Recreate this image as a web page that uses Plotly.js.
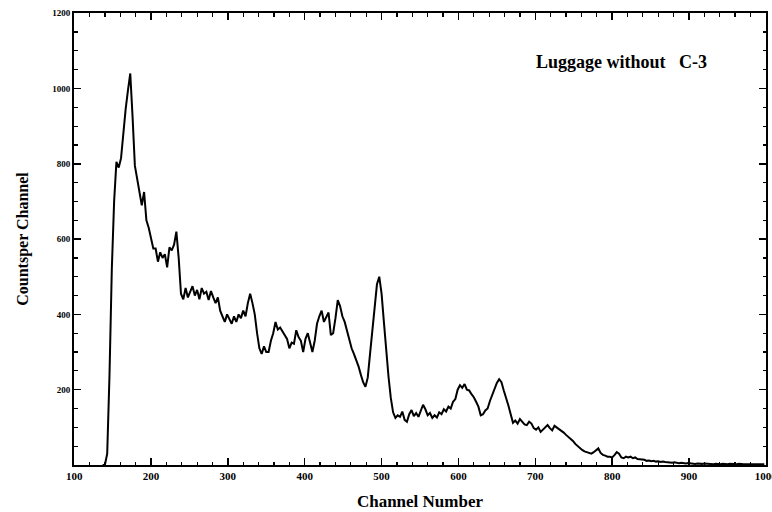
<!DOCTYPE html>
<html>
<head>
<meta charset="utf-8">
<script src="https://cdn.plot.ly/plotly-3.0.1.min.js"></script>
<style>html,body{margin:0;padding:0;background:#fff;}#chart{width:772px;height:512px;}</style>
</head>
<body>
<div id="chart"></div>
<script>
// Channel numbers start at 137 and advance by 3 per value
const channelStart = 137;
const channelStep = 3;
const counts = [
  0, 0, 30, 240, 520, 700, 805, 790, 815, 885,
  945, 995, 1040, 925, 795, 760, 720, 690, 725, 650,
  630, 600, 575, 575, 540, 565, 550, 560, 525, 578,
  570, 585, 620, 550, 455, 440, 470, 445, 460, 475,
  450, 465, 440, 470, 455, 460, 438, 462, 445, 430,
  445, 410, 395, 380, 400, 385, 375, 395, 380, 400,
  390, 410, 395, 430, 455, 430, 400, 350, 310, 295,
  315, 300, 300, 330, 350, 380, 360, 365, 355, 345,
  335, 310, 325, 322, 358, 340, 330, 300, 335, 350,
  320, 300, 330, 375, 395, 410, 380, 395, 405, 345,
  350, 390, 438, 422, 395, 380, 355, 338, 310, 295,
  280, 262, 240, 220, 208, 232, 295, 360, 420, 480,
  500, 455, 380, 300, 235, 178, 140, 125, 132, 128,
  142, 120, 115, 135, 146, 130, 138, 128, 145, 160,
  148, 132, 138, 125, 132, 126, 140, 135, 148, 142,
  155, 150, 168, 175, 200, 212, 205, 215, 200, 198,
  188, 180, 168, 155, 132, 135, 145, 150, 170, 185,
  205, 218, 228, 220, 198, 180, 158, 135, 112, 118,
  110, 122, 115, 108, 106, 115, 110, 98, 94, 100,
  88, 95, 100, 106, 98, 92, 104, 100, 96, 90,
  86, 80, 75, 70, 64, 56, 50, 46, 40, 36,
  34, 32, 30, 34, 40, 44, 32, 27, 25, 22,
  22, 20, 26, 34, 30, 20, 18, 22, 20, 22,
  18, 20, 16, 15, 13, 14, 11, 12, 10, 11,
  9, 10, 8, 9, 8, 7, 8, 6, 7, 6,
  5, 6, 5, 4, 5, 4, 4, 3, 4, 3,
  3, 4, 3, 2, 3, 2, 3, 2, 2, 3,
  2, 2, 3, 2, 2, 2, 3, 2, 2, 2,
  3, 2, 2, 2, 2, 2, 2, 2
];
const xTickVals = [100, 200, 300, 400, 500, 600, 700, 800, 900, 1000];
const yTickVals = [200, 400, 600, 800, 1000, 1200];
const titleText = "Luggage without\u00a0\u00a0 C-3";
const xTitle = "Channel Number";
const yTitle = "Countsper Channel";

const serif = "Liberation Serif, Times New Roman, serif";
const xRange = [99.8, 1000.2];
const yRange = [0, 1200.5];

const trace = {
  type: "scatter",
  mode: "lines",
  x0: channelStart,
  dx: channelStep,
  y: counts,
  line: {color: "#000", width: 2, shape: "linear"},
  hoverinfo: "skip"
};

function tickStyle(extra) {
  return Object.assign({
    tickmode: "array",
    ticks: "inside",
    ticklen: 7,
    tickwidth: 1.5,
    tickcolor: "#000",
    mirror: "ticks",
    showgrid: false,
    zeroline: false
  }, extra);
}

const layout = {
  width: 772,
  height: 512,
  margin: {l: 74, r: 6, t: 13, b: 47},
  paper_bgcolor: "#fff",
  plot_bgcolor: "#fff",
  showlegend: false,
  font: {family: serif, color: "#000"},
  xaxis: tickStyle({
    range: xRange,
    tickvals: xTickVals,
    showline: true,
    linecolor: "#000",
    linewidth: 2,
    ticklabeloverflow: "allow",
    tickfont: {family: serif, size: 11, color: "#000", weight: "bold"},
    minor: {dtick: 20, tick0: 100, ticks: "inside", ticklen: 3.5, tickcolor: "#000", tickwidth: 1.2, showgrid: false},
    title: {text: "<b>" + xTitle + "</b>", font: {family: serif, size: 17, color: "#000"}, standoff: 14}
  }),
  xaxis2: tickStyle({
    range: xRange,
    tickvals: xTickVals,
    overlaying: "x",
    side: "top",
    anchor: "y",
    showline: false,
    showticklabels: false,
    minor: {dtick: 20, tick0: 100, ticks: "inside", ticklen: 3.5, tickcolor: "#000", tickwidth: 1.2, showgrid: false}
  }),
  yaxis: tickStyle({
    range: yRange,
    tickvals: yTickVals,
    showline: true,
    linecolor: "#000",
    linewidth: 2,
    ticklabeloverflow: "allow",
    tickfont: {family: serif, size: 9, color: "#000", weight: "bold"},
    minor: {dtick: 50, tick0: 0, ticks: "inside", ticklen: 3.5, tickcolor: "#000", tickwidth: 1.2, showgrid: false},
    title: {text: "<b>" + yTitle + "</b>", font: {family: serif, size: 16, color: "#000"}, standoff: 20}
  }),
  yaxis2: tickStyle({
    range: yRange,
    tickvals: yTickVals,
    overlaying: "y",
    side: "right",
    anchor: "x",
    showline: false,
    showticklabels: false,
    minor: {dtick: 50, tick0: 0, ticks: "inside", ticklen: 3.5, tickcolor: "#000", tickwidth: 1.2, showgrid: false}
  }),
  annotations: [{
    x: 812, y: 1070, xref: "x", yref: "y",
    text: "<b>" + titleText + "</b>",
    showarrow: false,
    font: {family: serif, size: 18, color: "#000"}
  }]
};

// An empty helper trace so the overlay axes are drawn
const helper = {type: "scatter", mode: "lines", x: [], y: [], xaxis: "x2", yaxis: "y2", hoverinfo: "skip"};

Plotly.newPlot("chart", [trace, helper], layout, {displayModeBar: false, staticPlot: true});
</script>
</body>
</html>
